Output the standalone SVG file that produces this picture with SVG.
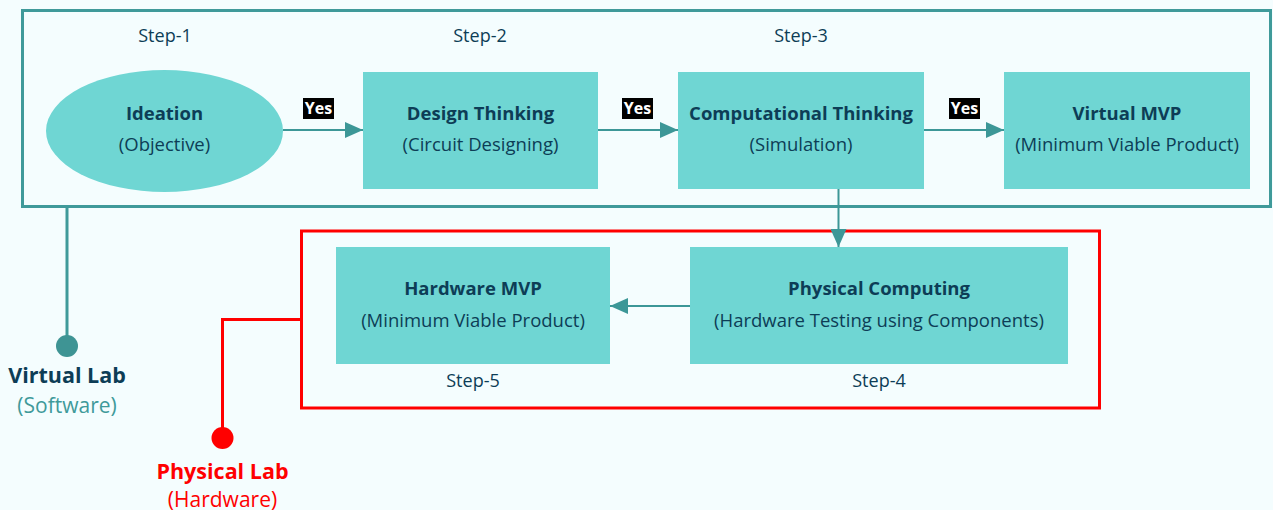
<svg xmlns="http://www.w3.org/2000/svg" width="1273" height="510" viewBox="0 0 1273 510">
  <defs>
    <style>
      text { font-family: "Open Sans", "Noto Sans", "Liberation Sans", sans-serif; text-anchor: middle; }
      .node { fill: #6fd6d3; }
      .title { font-size: 18.5px; font-weight: 700; fill: #0d3d56; }
      .sub { font-size: 18.5px; fill: #0d3d56; }
      .step { font-size: 18px; fill: #0d3d56; }
      .conn { stroke: #3c9797; stroke-width: 2; fill: none; }
      .yesbg { fill: #000000; }
      .yes { font-size: 16px; font-weight: 700; fill: #ffffff; }
    </style>
    <marker id="arrow" viewBox="0 0 18 16" refX="18" refY="8" markerWidth="18" markerHeight="16" markerUnits="userSpaceOnUse" orient="auto">
      <path d="M0,0 L18,8 L0,16 Z" fill="#3c9797"/>
    </marker>
  </defs>

  <!-- page background -->
  <rect x="0" y="0" width="1273" height="510" fill="#f4fdfe"/>

  <!-- virtual lab frame -->
  <g id="virtual-lab-frame">
    <rect x="22.5" y="10.5" width="1248" height="196" fill="none" stroke="#3f9a9a" stroke-width="3"/>
  </g>

  <!-- physical lab frame -->
  <g id="physical-lab-frame">
    <rect x="301.5" y="231" width="798" height="177" fill="none" stroke="#ff0000" stroke-width="3"/>
  </g>

  <!-- step captions -->
  <g id="steps">
    <text class="step" x="165" y="42">Step-1</text>
    <text class="step" x="480" y="42">Step-2</text>
    <text class="step" x="801" y="42">Step-3</text>
    <text class="step" x="879" y="387">Step-4</text>
    <text class="step" x="473" y="387">Step-5</text>
  </g>

  <!-- connectors -->
  <g id="connectors">
    <line class="conn" x1="283" y1="130" x2="363" y2="130" marker-end="url(#arrow)"/>
    <line class="conn" x1="598" y1="130" x2="678" y2="130" marker-end="url(#arrow)"/>
    <line class="conn" x1="924" y1="130" x2="1004" y2="130" marker-end="url(#arrow)"/>
    <line class="conn" x1="838.5" y1="188" x2="838.5" y2="247" marker-end="url(#arrow)"/>
    <line class="conn" x1="690" y1="306" x2="610" y2="306" marker-end="url(#arrow)"/>
    <!-- lab legends -->
    <line x1="67" y1="207" x2="67" y2="346" stroke="#3f9a9a" stroke-width="3"/>
    <polyline points="301,319.5 222.5,319.5 222.5,438" fill="none" stroke="#ff0000" stroke-width="3"/>
  </g>

  <!-- yes labels -->
  <g id="yes-labels">
    <rect class="yesbg" x="303" y="98" width="31" height="21"/>
    <text class="yes" x="318.5" y="114">Yes</text>
    <rect class="yesbg" x="622" y="98" width="31" height="21"/>
    <text class="yes" x="637.5" y="114">Yes</text>
    <rect class="yesbg" x="949" y="98" width="31" height="21"/>
    <text class="yes" x="964.5" y="114">Yes</text>
  </g>

  <g id="ideation">
    <ellipse class="node" cx="164.5" cy="131" rx="118.5" ry="61"/>
    <text class="title" x="164.5" y="120">Ideation</text>
    <text class="sub" x="164.5" y="151">(Objective)</text>
  </g>

  <g id="design-thinking">
    <rect class="node" x="363" y="72" width="235" height="117"/>
    <text class="title" x="480.5" y="120">Design Thinking</text>
    <text class="sub" x="480.5" y="151">(Circuit Designing)</text>
  </g>

  <g id="computational-thinking">
    <rect class="node" x="678" y="72" width="246" height="117"/>
    <text class="title" x="801" y="120">Computational Thinking</text>
    <text class="sub" x="801" y="151">(Simulation)</text>
  </g>

  <g id="virtual-mvp">
    <rect class="node" x="1004" y="72" width="246" height="117"/>
    <text class="title" x="1127" y="120">Virtual MVP</text>
    <text class="sub" x="1127" y="151">(Minimum Viable Product)</text>
  </g>

  <g id="physical-computing">
    <rect class="node" x="690" y="247" width="378" height="117"/>
    <text class="title" x="879" y="295">Physical Computing</text>
    <text class="sub" x="879" y="327">(Hardware Testing using Components)</text>
  </g>

  <g id="hardware-mvp">
    <rect class="node" x="336" y="247" width="274" height="117"/>
    <text class="title" x="473" y="295">Hardware MVP</text>
    <text class="sub" x="473" y="327">(Minimum Viable Product)</text>
  </g>

  <g id="virtual-lab">
    <circle cx="67" cy="346" r="11" fill="#3e9494"/>
    <text x="67" y="383" style="font-size:21.5px;font-weight:700;fill:#0d3d56">Virtual Lab</text>
    <text x="67" y="413" style="font-size:21px;fill:#3f9a9a">(Software)</text>
  </g>

  <g id="physical-lab">
    <circle cx="222.5" cy="438" r="11" fill="#ff0000"/>
    <text x="222.5" y="479" style="font-size:21.5px;font-weight:700;fill:#ff0000">Physical Lab</text>
    <text x="222.5" y="507" style="font-size:21px;fill:#ff0000">(Hardware)</text>
  </g>
</svg>
